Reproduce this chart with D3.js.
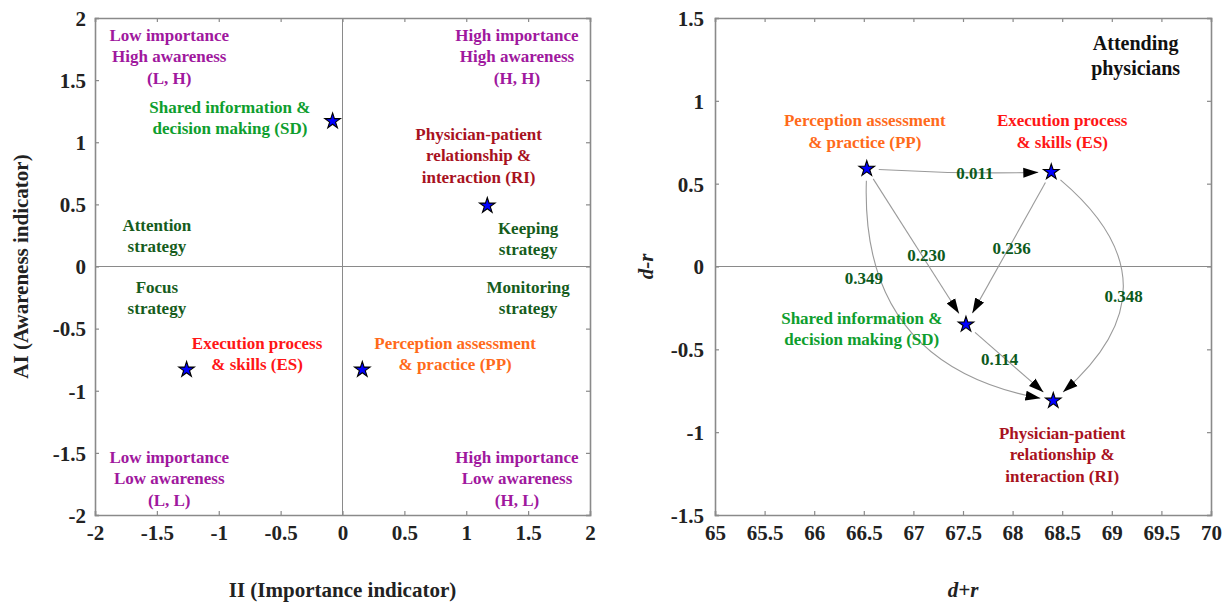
<!DOCTYPE html>
<html>
<head>
<meta charset="utf-8">
<script src="https://cdn.jsdelivr.net/npm/d3@7"></script>
<style>
  html, body { margin: 0; padding: 0; background: #fff; }
  svg { display: block; }
  text { font-family: "Liberation Serif", "Times New Roman", serif; font-weight: bold; }
</style>
</head>
<body>
<svg id="chart" width="1226" height="603"></svg>
<script>
// ---------------- DATA ----------------
const factors = ["SD", "RI", "ES", "PP"];
// Left panel: importance-awareness analysis
const importanceII = [-0.08, 1.17, -1.26, 0.16];
const awarenessAI  = [1.17, 0.49, -0.83, -0.83];
// Right panel: DEMATEL causal diagram
const dPlusR  = [67.53, 68.41, 68.39, 66.53];
const dMinusR = [-0.35, -0.81, 0.57, 0.59];

const edgeFrom   = ["PP", "PP", "ES", "PP", "ES", "SD"];
const edgeTo     = ["ES", "SD", "SD", "RI", "RI", "RI"];
const edgeWeight = ["0.011", "0.230", "0.236", "0.349", "0.348", "0.114"];
// label anchor of each edge value, in data units (d+r, d-r)
const edgeLabelX = [67.62, 67.13, 67.99, 66.50, 69.12, 67.87];
const edgeLabelY = [0.564, 0.07, 0.11, -0.07, -0.18, -0.56];

const leftXTicks  = [-2, -1.5, -1, -0.5, 0, 0.5, 1, 1.5, 2];
const leftYTicks  = [-2, -1.5, -1, -0.5, 0, 0.5, 1, 1.5, 2];
const rightXTicks = [65, 65.5, 66, 66.5, 67, 67.5, 68, 68.5, 69, 69.5, 70];
const rightYTicks = [-1.5, -1, -0.5, 0, 0.5, 1, 1.5];

// Text annotations (lines, anchor in data units, colour role)
const leftNotes = [
  { lines: ["Low importance", "High awareness", "(L, H)"], x: -1.40, y: 1.863, role: "quad" },
  { lines: ["High importance", "High awareness", "(H, H)"], x: 1.41, y: 1.863, role: "quad" },
  { lines: ["Low importance", "Low awareness", "(L, L)"], x: -1.40, y: -1.533, role: "quad" },
  { lines: ["High importance", "Low awareness", "(H, L)"], x: 1.41, y: -1.533, role: "quad" },
  { lines: ["Shared information &", "decision making (SD)"], x: -0.91, y: 1.284, role: "SD" },
  { lines: ["Physician-patient", "relationship &", "interaction (RI)"], x: 1.10, y: 1.066, role: "RI" },
  { lines: ["Attention", "strategy"], x: -1.50, y: 0.334, role: "strat" },
  { lines: ["Keeping", "strategy"], x: 1.50, y: 0.31, role: "strat" },
  { lines: ["Focus", "strategy"], x: -1.50, y: -0.165, role: "strat" },
  { lines: ["Monitoring", "strategy"], x: 1.50, y: -0.165, role: "strat" },
  { lines: ["Execution process", "& skills (ES)"], x: -0.69, y: -0.616, role: "ES" },
  { lines: ["Perception assessment", "& practice (PP)"], x: 0.91, y: -0.616, role: "PP" }
];
const rightNotes = [
  { lines: ["Perception assessment", "& practice (PP)"], x: 66.51, y: 0.884, role: "PP" },
  { lines: ["Execution process", "& skills (ES)"], x: 68.50, y: 0.884, role: "ES" },
  { lines: ["Shared information &", "decision making (SD)"], x: 66.48, y: -0.311, role: "SD" },
  { lines: ["Physician-patient", "relationship &", "interaction (RI)"], x: 68.50, y: -1.003, role: "RI" }
];
const rightTitle = ["Attending", "physicians"];

// ---------------- STYLE ----------------
const colors = {
  quad: "#a0189e", SD: "#0e9e2e", RI: "#a8121e", strat: "#165c1c",
  ES: "#ff1616", PP: "#ff6a1a", edge: "#0d5a1c", title: "#111"
};
const edgeBend = { "PP-ES": 0.02, "PP-SD": 0, "ES-SD": 0, "PP-RI": 0.43, "ES-RI": -0.58 };
const axisColor = "#8a8a8a";

const svg = d3.select("#chart");
svg.append("rect").attr("width", 1226).attr("height", 603).attr("fill", "#fff");

const defs = svg.append("defs");
defs.append("marker")
  .attr("id", "arrow").attr("markerUnits", "userSpaceOnUse")
  .attr("viewBox", "0 0 15 11").attr("refX", 15).attr("refY", 5.5)
  .attr("markerWidth", 15).attr("markerHeight", 11).attr("orient", "auto")
  .append("path").attr("d", "M0,0.5 L15,5.5 L0,10.5 Z").attr("fill", "#000");

function panel(x0, x1, y0, y1, xDom, yDom, xTicks, yTicks, xTitle, yTitle, italicTitles, yLabelX, yTitleX) {
  const x = d3.scaleLinear().domain(xDom).range([x0, x1]);
  const y = d3.scaleLinear().domain(yDom).range([y1, y0]);
  const g = svg.append("g");
  const tl = 4;
  // zero lines
  if (xDom[0] < 0 && xDom[1] > 0)
    g.append("line").attr("x1", x(0)).attr("x2", x(0)).attr("y1", y0).attr("y2", y1)
      .attr("stroke", axisColor).attr("stroke-width", 1);
  g.append("line").attr("x1", x0).attr("x2", x1).attr("y1", y(0)).attr("y2", y(0))
    .attr("stroke", axisColor).attr("stroke-width", 1.2);

  // axes with inward ticks
  const fmt = d => String(d);
  const bottom = g.append("g").attr("transform", `translate(0,${y1})`)
    .call(d3.axisBottom(x).tickValues(xTicks).tickSize(-tl).tickFormat(fmt).tickPadding(14));
  const top = g.append("g").attr("transform", `translate(0,${y0})`)
    .call(d3.axisTop(x).tickValues(xTicks).tickSize(-tl).tickFormat(""));
  const left = g.append("g").attr("transform", `translate(${x0},0)`)
    .call(d3.axisLeft(y).tickValues(yTicks).tickSize(-tl).tickFormat(fmt).tickPadding(0));
  const right = g.append("g").attr("transform", `translate(${x1},0)`)
    .call(d3.axisRight(y).tickValues(yTicks).tickSize(-tl).tickFormat(""));
  [bottom, top, left, right].forEach(a => {
    a.select(".domain").attr("stroke", axisColor).attr("stroke-width", 1.6);
    a.selectAll(".tick line").attr("stroke", axisColor).attr("stroke-width", 1.2);
    a.selectAll("text").attr("fill", "#222").style("font-size", "21px")
      .style("font-family", '"Liberation Serif", serif').style("font-weight", "bold");
  });
  bottom.selectAll("text").attr("dy", "0.5em");
  left.selectAll("text").attr("x", -(x0 - yLabelX)).attr("dy", "0.35em");

  const xt = g.append("text").attr("x", (x0 + x1) / 2).attr("y", 597)
    .attr("text-anchor", "middle").style("font-size", "21px").attr("fill", "#222").text(xTitle);
  const yt = g.append("text").attr("transform", `translate(${yTitleX},${(y0 + y1) / 2}) rotate(-90)`)
    .attr("text-anchor", "middle").attr("dy", "0.35em").style("font-size", "21px").attr("fill", "#222").text(yTitle);
  if (italicTitles) { xt.style("font-style", "italic"); yt.style("font-style", "italic"); }
  return { x, y, g };
}

function notes(p, list) {
  list.forEach(n => {
    const t = p.g.append("text").attr("text-anchor", "middle")
      .attr("fill", colors[n.role]).style("font-size", "17px");
    n.lines.forEach((ln, i) => {
      t.append("tspan").attr("x", p.x(n.x)).attr("y", p.y(n.y) + i * 21.5).attr("dy", "0.35em").text(ln);
    });
  });
}

const star = d3.symbol().type(d3.symbolStar).size(75);
function stars(p, xs, ys) {
  p.g.selectAll(null).data(factors).enter().append("path")
    .attr("d", star)
    .attr("transform", (d, i) => `translate(${p.x(xs[i])},${p.y(ys[i])})`)
    .attr("fill", "#0000ff").attr("stroke", "#000").attr("stroke-width", 1.1);
}

// ---------------- LEFT PANEL ----------------
const L = panel(95, 590, 18, 515, [-2, 2], [-2, 2], leftXTicks, leftYTicks,
  "II (Importance indicator)", "AI (Awareness indicator)", false, 86, 21);
notes(L, leftNotes);
stars(L, importanceII, awarenessAI);

// ---------------- RIGHT PANEL ----------------
const R = panel(715, 1211, 18, 515, [65, 70], [-1.5, 1.5], rightXTicks, rightYTicks,
  "d+r", "d-r", true, 704, 646);

// edges
const idx = k => factors.indexOf(k);
edgeFrom.forEach((f, i) => {
  const t = edgeTo[i];
  const S = [R.x(dPlusR[idx(f)]), R.y(dMinusR[idx(f)])];
  const E = [R.x(dPlusR[idx(t)]), R.y(dMinusR[idx(t)])];
  const b = edgeBend[f + "-" + t] || 0;
  const dx = E[0] - S[0], dy = E[1] - S[1], len = Math.hypot(dx, dy);
  const M = [(S[0] + E[0]) / 2, (S[1] + E[1]) / 2];
  const C = [M[0] - dy / len * b * len, M[1] + dx / len * b * len];
  const unit = (a, c) => { const h = Math.hypot(c[0] - a[0], c[1] - a[1]); return [(c[0] - a[0]) / h, (c[1] - a[1]) / h]; };
  const us = unit(S, C), ue = unit(E, C);
  const ps = 12, pe = 13;
  const s = [S[0] + us[0] * ps, S[1] + us[1] * ps];
  const e = [E[0] + ue[0] * pe, E[1] + ue[1] * pe];
  const path = d3.path();
  path.moveTo(s[0], s[1]);
  path.quadraticCurveTo(C[0], C[1], e[0], e[1]);
  R.g.append("path").attr("d", path.toString()).attr("fill", "none")
    .attr("stroke", "#9a9a9a").attr("stroke-width", 1.1).attr("marker-end", "url(#arrow)");
});
// edge values
edgeWeight.forEach((w, i) => {
  R.g.append("text").attr("x", R.x(edgeLabelX[i])).attr("y", R.y(edgeLabelY[i]))
    .attr("dy", "0.35em").attr("text-anchor", "middle").attr("fill", colors.edge)
    .style("font-size", "17px").text(w);
});
notes(R, rightNotes);
stars(R, dPlusR, dMinusR);
// panel title
const tt = R.g.append("text").attr("text-anchor", "middle").attr("fill", colors.title).style("font-size", "20px");
rightTitle.forEach((ln, i) => {
  tt.append("tspan").attr("x", R.x(69.24)).attr("y", R.y(1.349) + i * 25).attr("dy", "0.35em").text(ln);
});
</script>
</body>
</html>
